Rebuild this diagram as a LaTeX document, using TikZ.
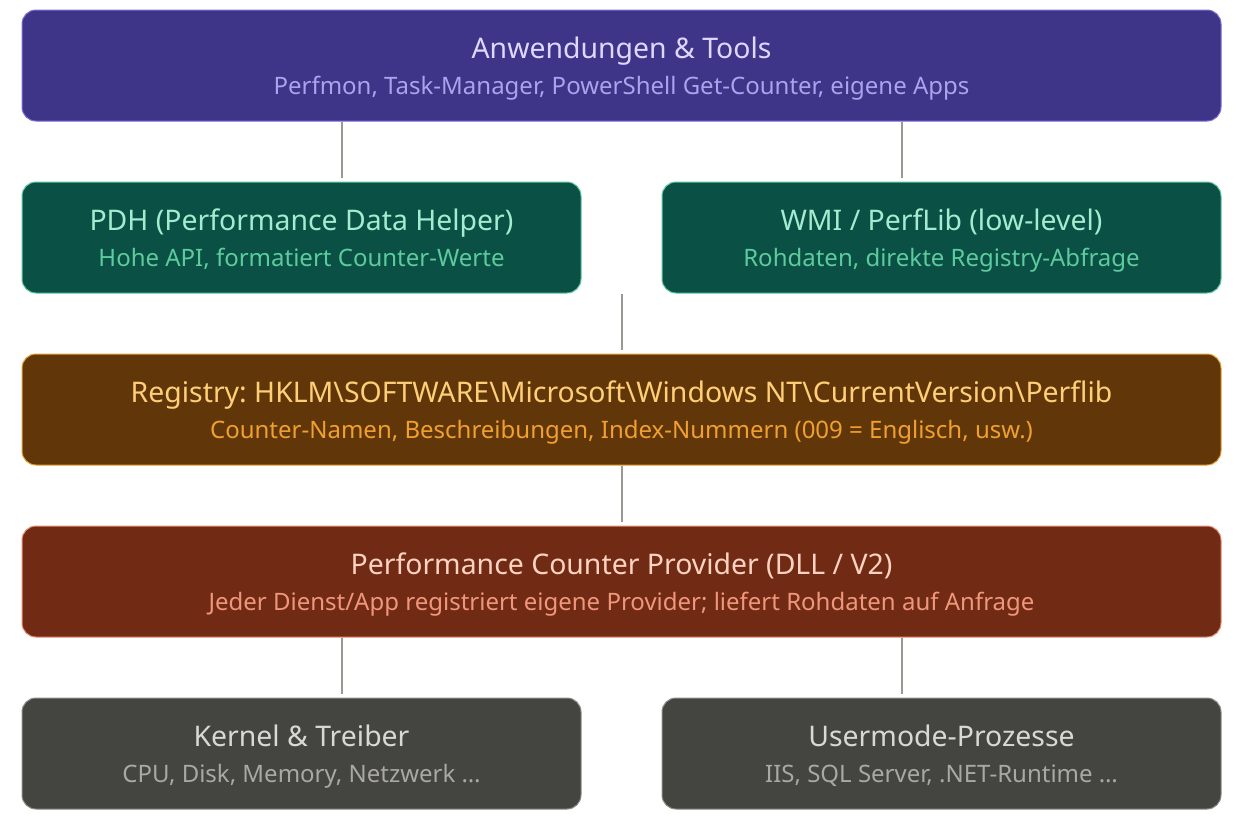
\documentclass[tikz,border=0pt]{standalone}
\usepackage{fontspec}
\setmainfont{Noto Sans}
\frenchspacing
\definecolor{bgW}{HTML}{FFFFFF}
\definecolor{pFill}{HTML}{3E3488}
\definecolor{pLine}{HTML}{7B6FD6}
\definecolor{pTitle}{HTML}{DCD8FF}
\definecolor{pSub}{HTML}{ABA3EC}
\definecolor{gFill}{HTML}{0A5044}
\definecolor{gLine}{HTML}{5CC9A0}
\definecolor{gTitle}{HTML}{A6EBD0}
\definecolor{gSub}{HTML}{5DCB9E}
\definecolor{oFill}{HTML}{613709}
\definecolor{oLine}{HTML}{E8A033}
\definecolor{oTitle}{HTML}{FFCF78}
\definecolor{oSub}{HTML}{F0A030}
\definecolor{rFill}{HTML}{712B14}
\definecolor{rLine}{HTML}{E88E74}
\definecolor{rTitle}{HTML}{FFD2C2}
\definecolor{rSub}{HTML}{F0967C}
\definecolor{kFill}{HTML}{444441}
\definecolor{kLine}{HTML}{8C8C86}
\definecolor{kTitle}{HTML}{D9D8D2}
\definecolor{kSub}{HTML}{A9A8A2}
\definecolor{conn}{HTML}{9A9893}
\tikzset{
  layerbox/.style={rectangle, rounded corners=14pt, line width=1pt, inner sep=0pt, minimum height=111pt},
  wide/.style={layerbox, minimum width=1199pt},
  half/.style={layerbox, minimum width=559pt},
  ttl/.style={font=\fontsize{28.4}{34}\selectfont, inner sep=0pt, anchor=base},
  sub/.style={font=\fontsize{24}{29}\selectfont, inner sep=0pt, anchor=base},
  link/.style={draw=conn, line width=2.5pt},
}
\begin{document}
\begin{tikzpicture}[x=1pt,y=-1pt]
\useasboundingbox[fill=bgW] (0,0) rectangle (1241,825);
% boxes
\node[wide, fill=pFill, draw=pLine] (apps) at (621.5,65.5) {};
\node[half, fill=gFill, draw=gLine] (pdh) at (301.5,237.5) {};
\node[half, fill=gFill, draw=gLine] (wmi) at (941.5,237.5) {};
\node[wide, fill=oFill, draw=oLine] (reg) at (621.5,409.5) {};
\node[wide, fill=rFill, draw=rLine] (prov) at (621.5,581.5) {};
\node[half, fill=kFill, draw=kLine] (kern) at (301.5,753.5) {};
\node[half, fill=kFill, draw=kLine] (user) at (941.5,753.5) {};
% texts
\node[ttl, text=pTitle] (appsT) at (621.5,58) {Anwendungen \& Tools};
\node[sub, text=pSub] (appsS) at (621.5,94) {Perfmon, Task-Manager, PowerShell Get-Counter, eigene Apps};
\node[ttl, text=gTitle] (pdhT) at (301.5,230) {PDH (Performance Data Helper)};
\node[sub, text=gSub] (pdhS) at (301.5,266) {Hohe API, formatiert Counter-Werte};
\node[ttl, text=gTitle] (wmiT) at (941.5,230) {WMI / PerfLib (low-level)};
\node[sub, text=gSub] (wmiS) at (941.5,266) {Rohdaten, direkte Registry-Abfrage};
\node[ttl, text=oTitle] (regT) at (621.5,402) {Registry: HKLM\textbackslash SOFTWARE\textbackslash Microsoft\textbackslash Windows NT\textbackslash CurrentVersion\textbackslash Perflib};
\node[sub, text=oSub] (regS) at (621.5,438) {Counter-Namen, Beschreibungen, Index-Nummern (009 = Englisch, usw.)};
\node[ttl, text=rTitle] (provT) at (621.5,574) {Performance Counter Provider (DLL / V2)};
\node[sub, text=rSub] (provS) at (621.5,610) {Jeder Dienst/App registriert eigene Provider; liefert Rohdaten auf Anfrage};
\node[ttl, text=kTitle] (kernT) at (301.5,746) {Kernel \& Treiber};
\node[sub, text=kSub] (kernS) at (301.5,782) {CPU, Disk, Memory, Netzwerk …};
\node[ttl, text=kTitle] (userT) at (941.5,746) {Usermode-Prozesse};
\node[sub, text=kSub] (userS) at (941.5,782) {IIS, SQL Server, .NET-Runtime …};
% connectors
\coordinate (midtop) at (622,294);
\draw[link] (apps.south -| 342,0) -- ([yshift=4pt]pdh.north -| 342,0);
\draw[link] (apps.south -| 902,0) -- ([yshift=4pt]wmi.north -| 902,0);
\draw[link] (midtop) -- ([yshift=4pt]reg.north -| midtop);
\draw[link] (reg.south -| 622,0) -- ([yshift=4pt]prov.north -| 622,0);
\draw[link] (prov.south -| 342,0) -- ([yshift=4pt]kern.north -| 342,0);
\draw[link] (prov.south -| 902,0) -- ([yshift=4pt]user.north -| 902,0);
\end{tikzpicture}
\end{document}
